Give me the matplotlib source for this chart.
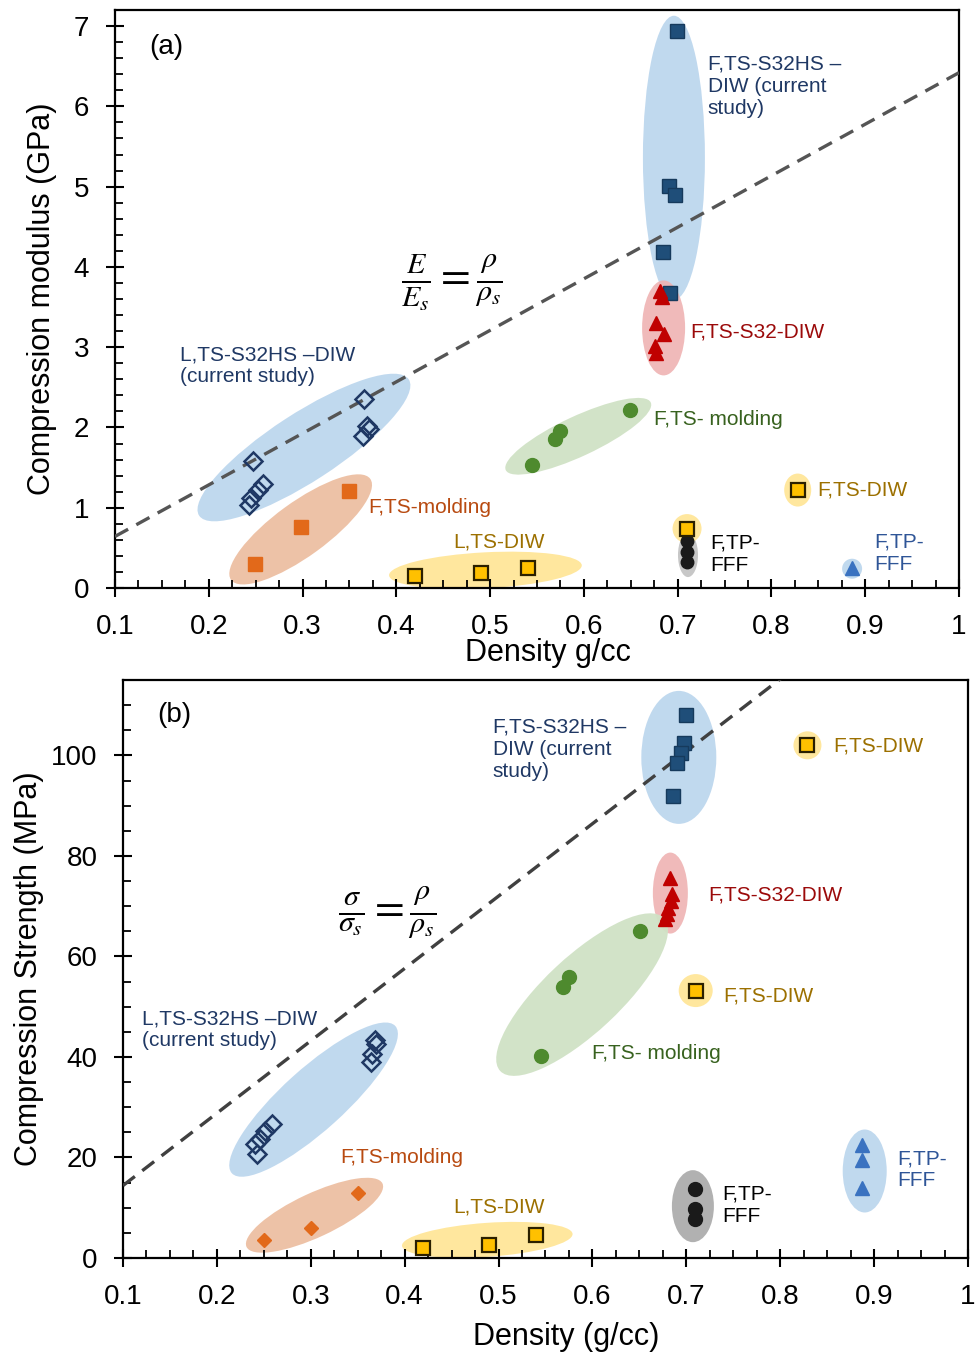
import matplotlib
matplotlib.use("Agg")
import matplotlib.pyplot as plt
from matplotlib.patches import Ellipse
from matplotlib.transforms import Affine2D, ScaledTranslation
from matplotlib.ticker import MultipleLocator
import numpy as np

plt.rcParams['font.family'] = ['Liberation Sans', 'DejaVu Sans']
plt.rcParams['mathtext.fontset'] = 'stix'

# ---------------- Panel (a): compression modulus (GPa) ----------------
a_s32hs_diw_rho = [0.699, 0.691, 0.697, 0.684, 0.692]
a_s32hs_diw_E = [6.94, 5.01, 4.90, 4.18, 3.68]

a_s32_diw_rho = [0.681, 0.683, 0.677, 0.685, 0.676, 0.677]
a_s32_diw_E = [3.70, 3.62, 3.30, 3.16, 3.01, 2.93]

a_lattice_rho = [0.366, 0.369, 0.371, 0.364, 0.247, 0.258, 0.252, 0.245, 0.243]
a_lattice_E = [2.36, 2.02, 1.98, 1.89, 1.58, 1.29, 1.22, 1.12, 1.03]

a_molding_green_rho = [0.649, 0.574, 0.569, 0.545]
a_molding_green_E = [2.22, 1.96, 1.85, 1.53]

a_molding_orange_rho = [0.35, 0.298, 0.249]
a_molding_orange_E = [1.21, 0.76, 0.30]

a_l_diw_rho = [0.42, 0.49, 0.54]
a_l_diw_E = [0.15, 0.19, 0.25]

a_f_diw_rho = [0.828, 0.71]
a_f_diw_E = [1.22, 0.74]

a_tp_black_rho = [0.71, 0.71, 0.71]
a_tp_black_E = [0.58, 0.45, 0.32]

a_tp_blue_rho = [0.886]
a_tp_blue_E = [0.25]

a_slope = 6.42  # E_s / rho_s

# ---------------- Panel (b): compression strength (MPa) ----------------
b_s32hs_diw_rho = [0.700, 0.698, 0.694, 0.690, 0.686]
b_s32hs_diw_S = [108.0, 102.5, 100.5, 98.5, 92.0]

b_s32_diw_rho = [0.683, 0.685, 0.684, 0.681, 0.679, 0.677]
b_s32_diw_S = [75.6, 72.4, 71.0, 69.6, 68.5, 67.5]

b_lattice_rho = [0.368, 0.370, 0.365, 0.364, 0.259, 0.251, 0.246, 0.241, 0.243]
b_lattice_S = [43.3, 42.5, 40.5, 38.9, 26.6, 25.2, 23.6, 22.6, 20.6]

b_molding_green_rho = [0.651, 0.575, 0.569, 0.545]
b_molding_green_S = [65.1, 56.0, 54.0, 40.1]

b_molding_orange_rho = [0.35, 0.30, 0.25]
b_molding_orange_S = [13.0, 6.0, 3.6]

b_l_diw_rho = [0.42, 0.49, 0.54]
b_l_diw_S = [2.0, 2.6, 4.6]

b_f_diw_rho = [0.829, 0.71]
b_f_diw_S = [102.0, 53.2]

b_tp_black_rho = [0.709, 0.709, 0.709]
b_tp_black_S = [13.7, 9.7, 7.7]

b_tp_blue_rho = [0.887, 0.887, 0.887]
b_tp_blue_S = [22.4, 19.4, 13.9]

b_slope = 144.0  # sigma_s / rho_s

# ---------------- colours ----------------
NAVY = '#1F4E79'
NAVY_TXT = '#1F3864'
RED = '#C00000'
RED_TXT = '#9B0A0A'
GREEN = '#4E8A2E'
GREEN_TXT = '#38621F'
ORANGE = '#E2691A'
ORANGE_TXT = '#B84A10'
GOLD = '#FFC000'
GOLD_TXT = '#9C7000'
BLUE = '#3A72C0'
BLUE_TXT = '#2F5597'

HALO_BLUE = '#BDD7EE'
HALO_RED = '#EFB3B3'
HALO_GREEN = '#D0E2C5'
HALO_ORANGE = '#EDBFA2'
HALO_YELLOW = '#FFE699'
HALO_GREY = '#C4C4C4'

fig = plt.figure(figsize=(9.76, 13.57), dpi=100)
ax_a = fig.add_axes([0.1178, 0.5667, 0.8648, 0.4259])
ax_b = fig.add_axes([0.1260, 0.0730, 0.8658, 0.4259])


def halo(ax, cx, cy, w, h, angle, color, alpha=0.95):
    """Highlight ellipse centred on a data point, sized in pixels."""
    tr = Affine2D().scale(ax.figure.dpi / 100.0) + ScaledTranslation(cx, cy, ax.transData)
    ax.add_patch(Ellipse((0, 0), w, h, angle=angle, transform=tr,
                         facecolor=color, edgecolor='none', alpha=alpha, zorder=1))


def style_axes(ax, ymax, ymajor, yminor):
    ax.set_xlim(0.1, 1.0)
    ax.set_ylim(0, ymax)
    ax.xaxis.set_major_locator(MultipleLocator(0.1))
    ax.xaxis.set_minor_locator(MultipleLocator(0.025))
    ax.yaxis.set_major_locator(MultipleLocator(ymajor))
    ax.yaxis.set_minor_locator(MultipleLocator(yminor))
    ax.tick_params(which='major', direction='inout', length=13, width=1.5,
                   labelsize=20)
    ax.tick_params(which='minor', direction='in', length=6, width=1.3)
    ax.tick_params(axis='x', which='major', pad=12)
    ax.tick_params(axis='y', which='major', pad=12)
    ax.xaxis.set_major_formatter(plt.FuncFormatter(lambda v, p: f"{v:g}"))
    for sp in ax.spines.values():
        sp.set_linewidth(1.6)
        sp.set_color('black')


def pts(ax, x, y, marker, ms, fc, ec, mew=1.0):
    ax.plot(x, y, linestyle='none', marker=marker, markersize=ms,
            markerfacecolor=fc, markeredgecolor=ec, markeredgewidth=mew, zorder=5)


# ================= Panel (a) =================
ax = ax_a
style_axes(ax, 7.2, 1, 0.2)

halo(ax, 0.696, 5.36, 62, 284, 0, HALO_BLUE)
halo(ax, 0.685, 3.24, 43, 95, 0, HALO_RED, 0.9)
halo(ax, 0.3015, 1.75, 250, 68, 33, HALO_BLUE)
halo(ax, 0.298, 0.73, 172, 54, 36, HALO_ORANGE)
halo(ax, 0.594, 1.89, 160, 40, 25, HALO_GREEN)
halo(ax, 0.495, 0.22, 193, 36, 3, HALO_YELLOW)
halo(ax, 0.711, 0.41, 20, 44, 0, HALO_GREY)
halo(ax, 0.71, 0.74, 29, 29, 0, HALO_YELLOW)
halo(ax, 0.828, 1.22, 27, 33, 0, HALO_YELLOW)
halo(ax, 0.886, 0.24, 20, 20, 0, HALO_BLUE)

xx = np.array([0.1, 1.0])
ax.plot(xx, a_slope * xx, color='#555555', lw=2.4, linestyle=(0, (4.5, 2.8)), zorder=3)

pts(ax, a_s32hs_diw_rho, a_s32hs_diw_E, 's', 9.5, NAVY, '#163A5C')
pts(ax, a_s32_diw_rho, a_s32_diw_E, '^', 10, RED, RED)
pts(ax, a_lattice_rho, a_lattice_E, 'D', 9.5, 'none', NAVY_TXT, 1.8)
pts(ax, a_molding_green_rho, a_molding_green_E, 'o', 10, GREEN, GREEN)
pts(ax, a_molding_orange_rho, a_molding_orange_E, 's', 10.5, ORANGE, ORANGE)
pts(ax, a_l_diw_rho, a_l_diw_E, 's', 9.5, GOLD, '#2B2000', 1.6)
pts(ax, a_tp_black_rho, a_tp_black_E, 'o', 9, '#1A1A1A', '#1A1A1A')
pts(ax, a_f_diw_rho, a_f_diw_E, 's', 9.5, GOLD, '#2B2000', 1.6)
pts(ax, a_tp_blue_rho, a_tp_blue_E, '^', 10, BLUE, BLUE)

ax.set_ylabel('Compression modulus (GPa)', fontsize=22)
ax.set_xlabel('Density g/cc', fontsize=22)
ax.yaxis.set_label_coords(-0.069, 0.5)
ax.xaxis.set_label_coords(0.513, -0.087)

fs = 15
ax.text(0.137, 6.74, '(a)', fontsize=20, ha='left', va='center')
ax.text(0.732, 6.25, 'F,TS-S32HS –\nDIW (current\nstudy)', color=NAVY_TXT,
        fontsize=fs, ha='left', va='center', linespacing=1.2)
ax.text(0.713, 3.19, 'F,TS-S32-DIW', color=RED_TXT, fontsize=fs, ha='left', va='center')
ax.text(0.169, 2.77, 'L,TS-S32HS –DIW\n(current study)', color=NAVY_TXT,
        fontsize=fs, ha='left', va='center', linespacing=1.2)
ax.text(0.675, 2.10, 'F,TS- molding', color=GREEN_TXT, fontsize=fs, ha='left', va='center')
ax.text(0.370, 1.00, 'F,TS-molding', color=ORANGE_TXT, fontsize=fs, ha='left', va='center')
ax.text(0.510, 0.57, 'L,TS-DIW', color=GOLD_TXT, fontsize=fs, ha='center', va='center')
ax.text(0.849, 1.22, 'F,TS-DIW', color=GOLD_TXT, fontsize=fs, ha='left', va='center')
ax.text(0.735, 0.42, 'F,TP-\nFFF', color='black', fontsize=fs, ha='left', va='center',
        linespacing=1.2)
ax.text(0.910, 0.43, 'F,TP-\nFFF', color=BLUE_TXT, fontsize=fs, ha='left', va='center',
        linespacing=1.2)
ax.text(0.459, 3.8, r'$\frac{E}{E_s}=\frac{\rho}{\rho_s}$', fontsize=31,
        ha='center', va='center')

# ================= Panel (b) =================
ax = ax_b
style_axes(ax, 115, 20, 5)

halo(ax, 0.692, 99.6, 75, 133, 0, HALO_BLUE)
halo(ax, 0.683, 72.6, 35, 81, 0, HALO_RED, 0.9)
halo(ax, 0.303, 31.5, 220, 62, 42, HALO_BLUE)
halo(ax, 0.304, 8.5, 150, 44, 25, HALO_ORANGE)
halo(ax, 0.589, 52.4, 224, 76, 43, HALO_GREEN)
halo(ax, 0.488, 3.6, 171, 34, 4, HALO_YELLOW)
halo(ax, 0.707, 10.3, 42, 72, 0, '#ADADAD')
halo(ax, 0.890, 17.3, 44, 83, 0, HALO_BLUE)
halo(ax, 0.829, 102.0, 28, 28, 0, HALO_YELLOW)
halo(ax, 0.71, 53.2, 34, 33, 0, HALO_YELLOW)

ax.plot(xx, b_slope * xx, color='#404040', lw=2.4, linestyle=(0, (4.5, 2.8)), zorder=3)

pts(ax, b_s32hs_diw_rho, b_s32hs_diw_S, 's', 9.5, NAVY, '#163A5C')
pts(ax, b_s32_diw_rho, b_s32_diw_S, '^', 10, RED, RED)
pts(ax, b_lattice_rho, b_lattice_S, 'D', 9.5, 'none', NAVY_TXT, 1.8)
pts(ax, b_molding_green_rho, b_molding_green_S, 'o', 10, GREEN, GREEN)
pts(ax, b_molding_orange_rho, b_molding_orange_S, 'D', 7.5, ORANGE, ORANGE)
pts(ax, b_l_diw_rho, b_l_diw_S, 's', 10, GOLD, '#2B2000', 1.6)
pts(ax, b_tp_black_rho, b_tp_black_S, 'o', 10, '#1A1A1A', '#1A1A1A')
pts(ax, b_f_diw_rho, b_f_diw_S, 's', 10, GOLD, '#2B2000', 1.6)
pts(ax, b_tp_blue_rho, b_tp_blue_S, '^', 9.5, BLUE, BLUE)

ax.set_ylabel('Compression Strength (MPa)', fontsize=22)
ax.set_xlabel('Density (g/cc)', fontsize=22)
ax.yaxis.set_label_coords(-0.094, 0.5)
ax.xaxis.set_label_coords(0.524, -0.111)

ax.text(0.136, 108, '(b)', fontsize=20, ha='left', va='center')
ax.text(0.494, 101.2, 'F,TS-S32HS –\nDIW (current\nstudy)', color=NAVY_TXT,
        fontsize=fs, ha='left', va='center', linespacing=1.2)
ax.text(0.857, 101.8, 'F,TS-DIW', color=GOLD_TXT, fontsize=fs, ha='left', va='center')
ax.text(0.723, 72.2, 'F,TS-S32-DIW', color=RED_TXT, fontsize=fs, ha='left', va='center')
ax.text(0.739, 52.2, 'F,TS-DIW', color=GOLD_TXT, fontsize=fs, ha='left', va='center')
ax.text(0.600, 40.7, 'F,TS- molding', color=GREEN_TXT, fontsize=fs, ha='left', va='center')
ax.text(0.120, 45.4, 'L,TS-S32HS –DIW\n(current study)', color=NAVY_TXT,
        fontsize=fs, ha='left', va='center', linespacing=1.2)
ax.text(0.331, 20.0, 'F,TS-molding', color=ORANGE_TXT, fontsize=fs, ha='left', va='center')
ax.text(0.501, 10.1, 'L,TS-DIW', color=GOLD_TXT, fontsize=fs, ha='center', va='center')
ax.text(0.738, 10.5, 'F,TP-\nFFF', color='black', fontsize=fs, ha='left', va='center',
        linespacing=1.2)
ax.text(0.925, 17.5, 'F,TP-\nFFF', color=BLUE_TXT, fontsize=fs, ha='left', va='center',
        linespacing=1.2)
ax.text(0.381, 68.7, r'$\frac{\sigma}{\sigma_s}=\frac{\rho}{\rho_s}$', fontsize=31,
        ha='center', va='center')

fig.savefig('out.png', dpi=100)
